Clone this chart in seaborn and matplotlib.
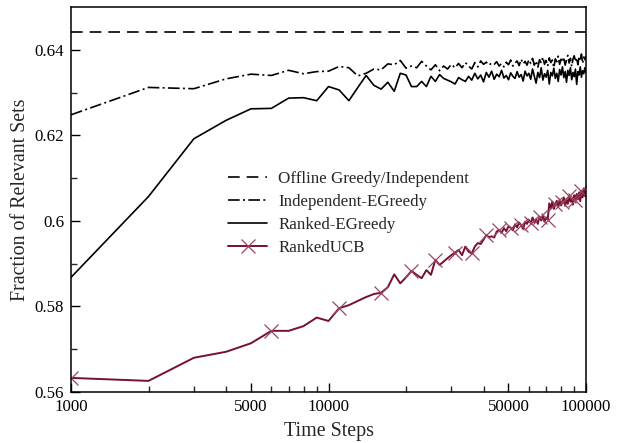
import numpy as np
import pandas as pd
import matplotlib
matplotlib.use("Agg")
import matplotlib.pyplot as plt
from matplotlib.ticker import FixedLocator, FuncFormatter, NullFormatter
import seaborn as sns

# ---------------- data ----------------
steps = [1000 * k for k in range(1, 101)]

offline_value = 0.6441

indep_egreedy = [
    0.6248, 0.6312, 0.6309, 0.6332, 0.6343, 0.6340, 0.6352, 0.6344, 0.6349, 0.6350,
    0.6361, 0.6358, 0.6339, 0.6345, 0.6355, 0.6353, 0.6367, 0.6365, 0.6375, 0.6357,
    0.6362, 0.6358, 0.6373, 0.6362, 0.6353, 0.6365, 0.6351, 0.6362, 0.6355, 0.6366,
    0.6358, 0.6368, 0.6358, 0.6370, 0.6362, 0.6355, 0.6370, 0.6360, 0.6374, 0.6366,
    0.6371, 0.6364, 0.6369, 0.6366, 0.6372, 0.6362, 0.6368, 0.6360, 0.6371, 0.6365,
    0.6376, 0.6362, 0.6369, 0.6374, 0.6363, 0.6378, 0.6367, 0.6373, 0.6364, 0.6377,
    0.6368, 0.6380, 0.6364, 0.6374, 0.6359, 0.6377, 0.6369, 0.6383, 0.6366, 0.6375,
    0.6362, 0.6381, 0.6370, 0.6376, 0.6358, 0.6379, 0.6372, 0.6385, 0.6366, 0.6378,
    0.6371, 0.6383, 0.6364, 0.6376, 0.6387, 0.6369, 0.6380, 0.6361, 0.6378, 0.6386,
    0.6372, 0.6381, 0.6365, 0.6385, 0.6374, 0.6390, 0.6368, 0.6383, 0.6377, 0.6386,
]

ranked_egreedy = [
    0.5868, 0.6057, 0.6192, 0.6235, 0.6262, 0.6263, 0.6287, 0.6288, 0.6281, 0.6314,
    0.6306, 0.6281, 0.6312, 0.6340, 0.6317, 0.6308, 0.6324, 0.6303, 0.6345, 0.6341,
    0.6314, 0.6314, 0.6326, 0.6314, 0.6338, 0.6326, 0.6342, 0.6333, 0.6329, 0.6325,
    0.6320, 0.6335, 0.6330, 0.6326, 0.6338, 0.6329, 0.6345, 0.6332, 0.6341, 0.6325,
    0.6347, 0.6336, 0.6350, 0.6331, 0.6343, 0.6337, 0.6352, 0.6334, 0.6340, 0.6330,
    0.6346, 0.6338, 0.6333, 0.6349, 0.6336, 0.6342, 0.6327, 0.6350, 0.6339, 0.6345,
    0.6331, 0.6355, 0.6338, 0.6322, 0.6347, 0.6335, 0.6358, 0.6329, 0.6344, 0.6336,
    0.6352, 0.6320, 0.6347, 0.6339, 0.6357, 0.6333, 0.6345, 0.6326, 0.6354, 0.6341,
    0.6360, 0.6335, 0.6349, 0.6324, 0.6352, 0.6340, 0.6358, 0.6330, 0.6347, 0.6337,
    0.6355, 0.6319, 0.6349, 0.6341, 0.6360, 0.6336, 0.6351, 0.6344, 0.6358, 0.6347,
]

ranked_ucb = [
    0.5633, 0.5626, 0.5680, 0.5694, 0.5714, 0.5743, 0.5743, 0.5754, 0.5774, 0.5766,
    0.5796, 0.5803, 0.5813, 0.5822, 0.5829, 0.5832, 0.5845, 0.5875, 0.5854, 0.5868,
    0.5883, 0.5874, 0.5866, 0.5885, 0.5874, 0.5909, 0.5897, 0.5905, 0.5913, 0.5920,
    0.5926, 0.5932, 0.5920, 0.5940, 0.5928, 0.5924, 0.5940, 0.5948, 0.5946, 0.5956,
    0.5967, 0.5962, 0.5964, 0.5961, 0.5975, 0.5979, 0.5972, 0.5983, 0.5976, 0.5987,
    0.5984, 0.5978, 0.5992, 0.5985, 0.5996, 0.5990, 0.5981, 0.5998, 0.5993, 0.6002,
    0.5995, 0.6008, 0.5997, 0.6004, 0.5993, 0.6010, 0.6001, 0.6012, 0.5998, 0.6008,
    0.6003, 0.6041, 0.6030, 0.6045, 0.6028, 0.6039, 0.6047, 0.6033, 0.6050, 0.6036,
    0.6044, 0.6055, 0.6035, 0.6049, 0.6040, 0.6058, 0.6045, 0.6052, 0.6038, 0.6060,
    0.6048, 0.6063, 0.6050, 0.6067, 0.6046, 0.6071, 0.6055, 0.6076, 0.6058, 0.6068,
]

series_labels = ["Offline Greedy/Independent", "Independent-EGreedy",
                 "Ranked-EGreedy", "RankedUCB"]
x_major_ticks = [1000, 5000, 10000, 50000, 100000]
y_major_ticks = [0.56, 0.58, 0.60, 0.62, 0.64]
x_label = "Time Steps"
y_label = "Fraction of Relevant Sets"

# ---------------- style ----------------
sns.set_style("white")
plt.rcParams["font.family"] = ["Liberation Serif", "DejaVu Serif"]

fig = plt.figure(figsize=(6.25, 4.43), dpi=100)
ax = fig.add_axes([0.1136, 0.1151, 0.8240, 0.8691])

df = pd.DataFrame({
    "step": steps,
    "offline": [offline_value] * len(steps),
    "indep": indep_egreedy,
    "ranked": ranked_egreedy,
    "ucb": ranked_ucb,
})

lw = 1.2
sns.lineplot(data=df, x="step", y="offline", ax=ax, color="black", lw=lw,
             linestyle=(0, (7, 4.2)), label=series_labels[0])
sns.lineplot(data=df, x="step", y="indep", ax=ax, color="black", lw=lw,
             linestyle=(0, (7, 2.0, 1.2, 2.0)), label=series_labels[1])
sns.lineplot(data=df, x="step", y="ranked", ax=ax, color="black", lw=lw,
             linestyle="-", label=series_labels[2])
sns.lineplot(data=df, x="step", y="ucb", ax=ax, color="#76102c", lw=lw + 0.2,
             linestyle="-", marker="x", markersize=9.5, markeredgewidth=0.9,
             markeredgecolor="#9a4561", markevery=5, label=series_labels[3])

ax.set_xscale("log")
ax.set_xlim(1000, 100000)
ax.set_ylim(0.56, 0.65)

ax.xaxis.set_major_locator(FixedLocator(x_major_ticks))
ax.xaxis.set_major_formatter(FuncFormatter(lambda v, p: f"{int(round(v))}"))
minor_x = [m * d for d in (1000, 10000) for m in range(2, 10) if m != 5]
ax.xaxis.set_minor_locator(FixedLocator(minor_x))
ax.xaxis.set_minor_formatter(NullFormatter())

ax.yaxis.set_major_locator(FixedLocator(y_major_ticks))
ax.yaxis.set_major_formatter(FuncFormatter(lambda v, p: f"{v:g}"))
ax.yaxis.set_minor_locator(FixedLocator([0.57, 0.59, 0.61, 0.63]))

ax.tick_params(axis="both", which="major", direction="in", length=6.5, width=1.0,
               labelsize=12.2, colors="black", pad=5,
               bottom=True, left=True, top=False, right=False)
ax.tick_params(axis="both", which="minor", direction="in", length=4.3, width=1.0,
               bottom=True, left=True, top=False, right=False)

for s in ax.spines.values():
    s.set_linewidth(1.1)
    s.set_color("black")

ax.set_xlabel(x_label, fontsize=14.4, labelpad=5)
ax.set_ylabel(y_label, fontsize=14.4, labelpad=3)

leg = ax.legend(loc="upper left", bbox_to_anchor=(0.305, 0.574), frameon=False,
                fontsize=12.2, handlelength=2.3, handletextpad=0.65,
                labelspacing=0.42, borderpad=0, borderaxespad=0)

fig.savefig("out.png", dpi=100)
